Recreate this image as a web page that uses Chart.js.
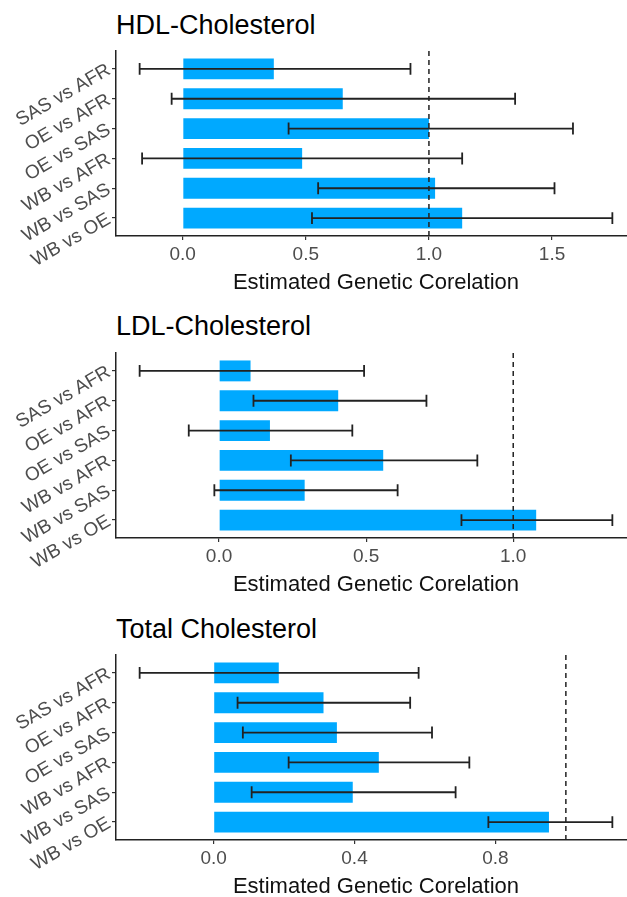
<!DOCTYPE html>
<html>
<head>
<meta charset="utf-8">
<script src="https://cdn.jsdelivr.net/npm/chart.js@4.4.1/dist/chart.umd.min.js"></script>
<style>
  html, body { margin: 0; padding: 0; background: #fff; overflow: hidden; }
  body { width: 627px; height: 897px; position: relative; }
  .panel { position: absolute; left: 0; }
  .title {
    position: absolute; left: 116px; margin: 0;
    font: 27px/27px "Liberation Sans", Arial, sans-serif; color: #000;
  }
</style>
</head>
<body>
<div class="title" style="top:12px">HDL-Cholesterol</div>
<div class="title" style="top:313px">LDL-Cholesterol</div>
<div class="title" style="top:616px">Total Cholesterol</div>
<canvas id="hdlChart" class="panel" style="top:0px" width="640" height="302"></canvas>
<canvas id="ldlChart" class="panel" style="top:302px" width="640" height="302"></canvas>
<canvas id="totalChart" class="panel" style="top:604px" width="640" height="302"></canvas>

<script>
// categories, top to bottom
const categories = ["SAS vs AFR", "OE vs AFR", "OE vs SAS", "WB vs AFR", "WB vs SAS", "WB vs OE"];

// HDL
const hdlValues = [0.37, 0.65, 1.0, 0.485, 1.025, 1.135];
const hdlLower = [-0.175, -0.045, 0.43, -0.165, 0.55, 0.525];
const hdlUpper = [0.925, 1.35, 1.585, 1.135, 1.51, 1.745];
const hdlTicks = [0, 0.5, 1.0, 1.5];

// LDL
const ldlValues = [0.107, 0.405, 0.173, 0.558, 0.291, 1.078];
const ldlLower = [-0.27, 0.117, -0.103, 0.244, -0.016, 0.824];
const ldlUpper = [0.493, 0.705, 0.453, 0.878, 0.607, 1.337];
const ldlTicks = [0, 0.5, 1.0];

// Total cholesterol
const totalValues = [0.185, 0.312, 0.35, 0.469, 0.395, 0.952];
const totalLower = [-0.21, 0.068, 0.083, 0.213, 0.108, 0.78];
const totalUpper = [0.582, 0.558, 0.62, 0.726, 0.687, 1.132];
const totalTicks = [0, 0.4, 0.8];

const refValue = 1.0;
const axisTitle = "Estimated Genetic Corelation";

const FONT = '"Liberation Sans", Arial, sans-serif';

// dashed reference line at refValue
const refLine = {
  id: "refLine",
  afterDatasetsDraw(chart, args, opts) {
    const { ctx, chartArea, scales } = chart;
    const px = scales.x.getPixelForValue(opts.value);
    ctx.save();
    ctx.strokeStyle = "#222";
    ctx.lineWidth = 1.5;
    ctx.setLineDash([5, 4]);
    ctx.beginPath();
    ctx.moveTo(px, chartArea.top);
    ctx.lineTo(px, chartArea.bottom);
    ctx.stroke();
    ctx.restore();
  },
};

// horizontal error bars with caps
const errorBars = {
  id: "errorBars",
  afterDatasetsDraw(chart, args, opts) {
    const { ctx, scales } = chart;
    const { x, y } = scales;
    const band = Math.abs(y.getPixelForValue(1) - y.getPixelForValue(0));
    const h = (band * 0.4) / 2;
    ctx.save();
    ctx.strokeStyle = "#222";
    ctx.lineWidth = 1.8;
    opts.lower.forEach((lo, i) => {
      const yc = y.getPixelForValue(i);
      const x0 = x.getPixelForValue(lo);
      const x1 = x.getPixelForValue(opts.upper[i]);
      ctx.beginPath();
      ctx.moveTo(x0, yc);
      ctx.lineTo(x1, yc);
      ctx.moveTo(x0, yc - h);
      ctx.lineTo(x0, yc + h);
      ctx.moveTo(x1, yc - h);
      ctx.lineTo(x1, yc + h);
      ctx.stroke();
    });
    ctx.restore();
  },
};

function makePanel(canvasId, values, lower, upper, ticks) {
  // ggplot-like 5% expansion of the data range
  const lo = Math.min(0, ...lower);
  const hi = Math.max(...upper, ...values);
  const pad = (hi - lo) * 0.05;

  const ctx = document.getElementById(canvasId).getContext("2d");
  return new Chart(ctx, {
    type: "bar",
    data: {
      datasets: [
        {
          data: values.map((v, i) => ({ x: v, y: i })),
          backgroundColor: "#00A9FF",
          borderWidth: 0,
          barPercentage: 0.7,
          categoryPercentage: 1,
        },
      ],
    },
    options: {
      indexAxis: "y",
      responsive: false,
      animation: false,
      layout: { padding: { top: 51, right: 4, left: 0, bottom: 0 } },
      plugins: {
        legend: { display: false },
        tooltip: { enabled: false },
        refLine: { value: refValue },
        errorBars: { lower, upper },
      },
      scales: {
        x: {
          type: "linear",
          min: lo - pad,
          max: hi + pad,
          afterBuildTicks: (s) => {
            s.ticks = ticks.map((v) => ({ value: v }));
          },
          afterFit: (s) => {
            s.height = 66;
          },
          ticks: {
            color: "#4D4D4D",
            font: { family: FONT, size: 19 },
            padding: 3,
            callback: (v) => Number(v).toFixed(1),
          },
          grid: {
            drawOnChartArea: false,
            drawTicks: true,
            tickLength: 4,
            color: "#333",
            lineWidth: 1.2,
          },
          border: { display: true, color: "#222", width: 1.5 },
          title: {
            display: true,
            text: axisTitle,
            color: "#111",
            font: { family: FONT, size: 22 },
            padding: { top: 0, bottom: 6 },
          },
        },
        y: {
          type: "linear",
          reverse: true,
          offset: false,
          min: -0.6,
          max: categories.length - 0.4,
          afterBuildTicks: (s) => {
            s.ticks = categories.map((c, i) => ({ value: i }));
          },
          afterFit: (s) => {
            s.width = 116;
          },
          ticks: {
            color: "#4D4D4D",
            font: { family: FONT, size: 19 },
            padding: 3,
            minRotation: 30,
            maxRotation: 30,
            callback: (v) => categories[v],
          },
          grid: {
            offset: false,
            drawOnChartArea: false,
            drawTicks: true,
            tickLength: 4,
            color: "#333",
            lineWidth: 1.2,
          },
          border: { display: true, color: "#222", width: 1.5 },
        },
      },
    },
    plugins: [refLine, errorBars],
  });
}

makePanel("hdlChart", hdlValues, hdlLower, hdlUpper, hdlTicks);
makePanel("ldlChart", ldlValues, ldlLower, ldlUpper, ldlTicks);
makePanel("totalChart", totalValues, totalLower, totalUpper, totalTicks);
</script>
</body>
</html>
